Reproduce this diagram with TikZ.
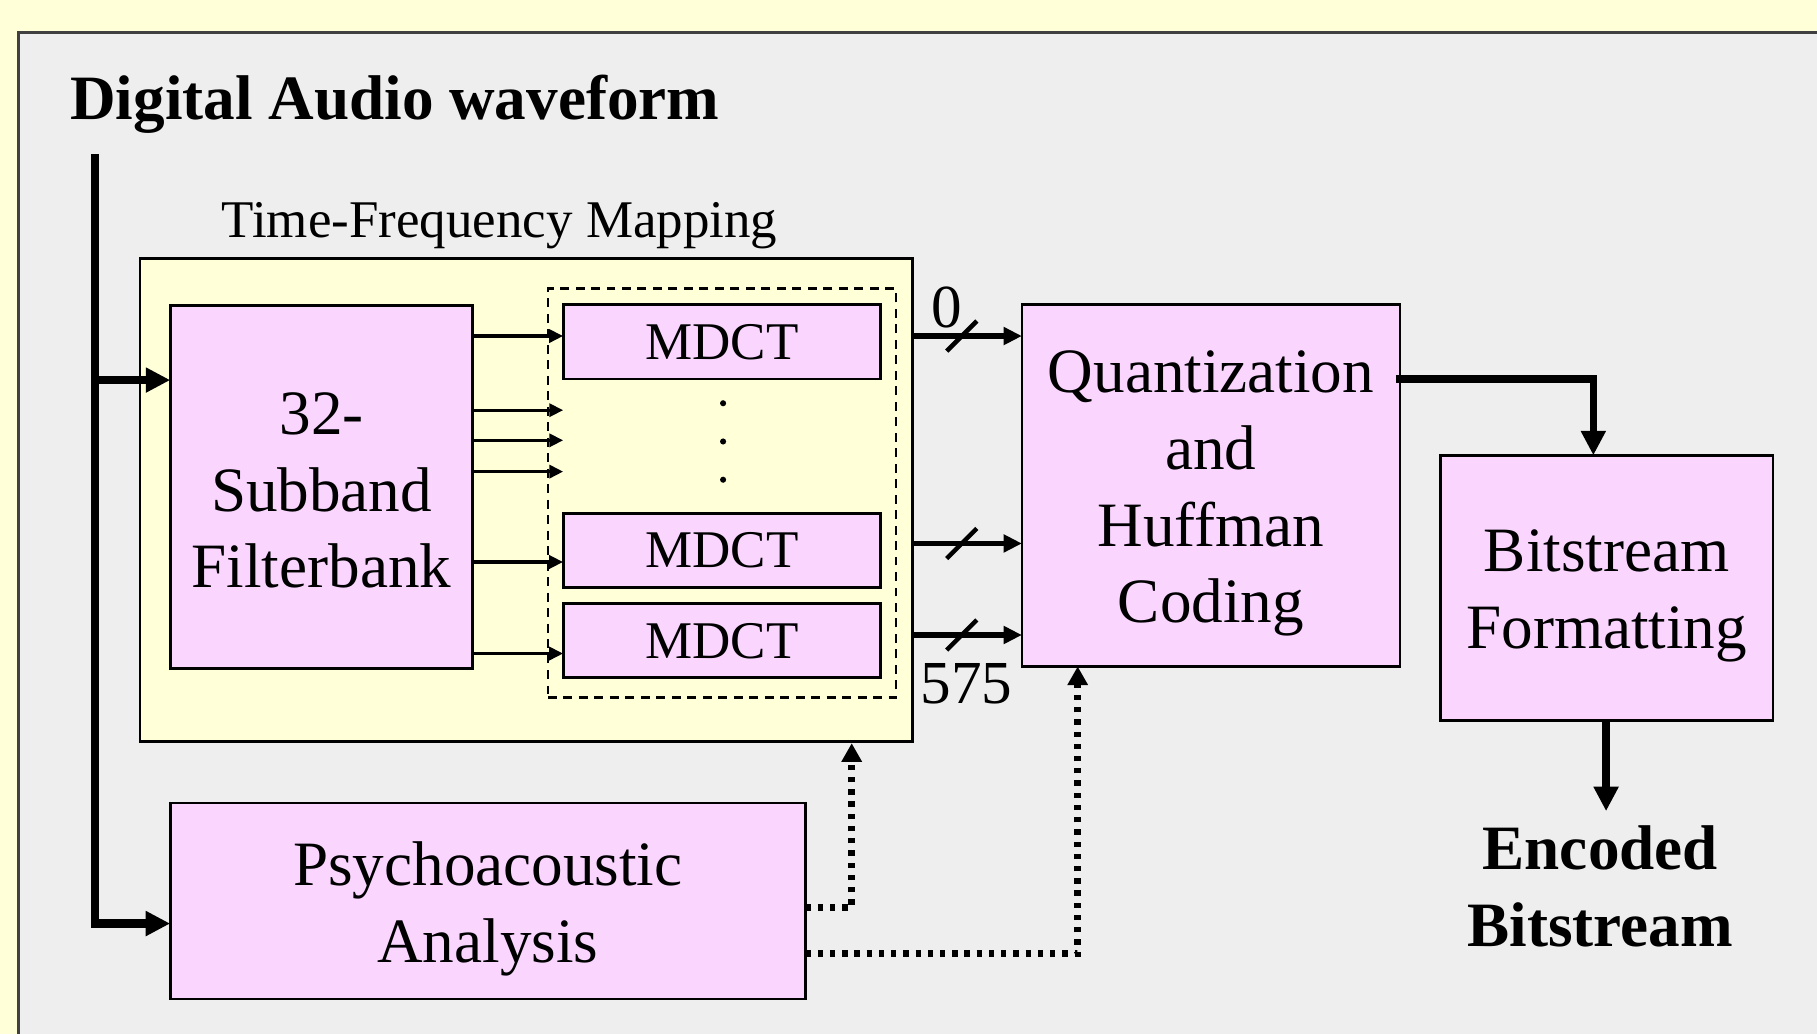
\documentclass[tikz,border=0pt]{standalone}
\usepackage{fontspec}
\setmainfont{Liberation Serif}
\usetikzlibrary{arrows.meta}
\definecolor{bgyel}{RGB}{255,255,216}
\definecolor{panelgray}{RGB}{238,238,238}
\definecolor{pinkbox}{RGB}{250,214,255}
\begin{document}
\begin{tikzpicture}[x=0.01cm,y=-0.01cm,
  blk/.style={draw=black,line width=0.7pt,fill=pinkbox,inner sep=0pt,outer sep=0pt,align=center,font=\fontsize{15.5}{18.8}\selectfont},
  mdct/.style={blk,minimum width=2.74cm,minimum height=0.64cm,font=\fontsize{13}{15}\selectfont},
  btxt/.style={inner sep=0pt,align=center,font=\fontsize{15.5}{18.8}\selectfont},
  thinarr/.style={line width=0.8pt,-{Triangle[length=3.4pt,width=3.2pt]}},
  medarr/.style={line width=1.4pt,-{Triangle[length=4.5pt,width=4.2pt]}},
  bigarr/.style={line width=2pt,-{Triangle[length=6pt,width=5.8pt]}},
  dotarr/.style={line width=1.6pt,dash pattern=on 1.3pt off 1.7pt,-{Triangle[length=4.6pt,width=4.8pt]}},
  slashmark/.style={line width=1.1pt},
  lbl/.style={inner sep=0pt,font=\fontsize{15.5}{18.8}\selectfont}]
\useasboundingbox (0,0) rectangle (1568,892);
\fill[bgyel] (0,0) rectangle (1568,892);
\draw[fill=panelgray,draw=black!75,line width=0.8pt] (16,28) rectangle (1600,920);

\node[lbl,anchor=base west,font=\bfseries\fontsize{15.5}{18.8}\selectfont] (title) at (60,103) {Digital Audio waveform};

% Time-frequency mapping
\node[draw=black,line width=0.7pt,fill=bgyel,inner sep=0pt,minimum width=6.66cm,minimum height=4.17cm] (tfm) at (454,431.5) {};
\node[lbl,anchor=base,font=\fontsize{13}{15}\selectfont] (tfmlabel) at (431,205) {Time-Frequency Mapping};
\node[blk,minimum width=2.61cm,minimum height=3.13cm] (fb) at (277.5,420.5) {};
\node[btxt] (fbtxt) at ([yshift=-0.03cm]fb.center) {32-\\Subband\\Filterbank};
\node[draw=black,line width=0.6pt,dash pattern=on 2.2pt off 1.6pt,inner sep=0pt,minimum width=3.00cm,minimum height=3.53cm] (dbox) at (623,425.5) {};
\node[mdct] (m1) at (623,295) {MDCT};
\node[mdct] (m2) at (623,475) {MDCT};
\node[mdct] (m3) at (623,553) {MDCT};
\fill (624,348) circle[radius=0.75pt];
\fill (624,381) circle[radius=0.75pt];
\fill (624,414) circle[radius=0.75pt];

\coordinate (a1) at (486,354);
\coordinate (a2) at (486,380);
\coordinate (a3) at (486,407);
\draw[thinarr] (fb.east |- 0,290) -- (m1.west |- 0,290);
\draw[thinarr] (fb.east |- a1) -- (a1);
\draw[thinarr] (fb.east |- a2) -- (a2);
\draw[thinarr] (fb.east |- a3) -- (a3);
\draw[thinarr] (fb.east |- 0,485) -- (m2.west |- 0,485);
\draw[thinarr] (fb.east |- 0,564) -- (m3.west |- 0,564);

% Quantization
\node[blk,minimum width=3.26cm,minimum height=3.12cm] (q) at (1045,419) {};
\node[btxt] (qtxt) at ([yshift=-0.07cm]q.center) {Quantization\\and\\Huffman\\Coding};
\coordinate (o1) at (830,290);
\coordinate (o2) at (830,469);
\coordinate (o3) at (830,548);
\draw[medarr] (tfm.east |- o1) -- (q.west |- o1);
\draw[medarr] (tfm.east |- o2) -- (q.west |- o2);
\draw[medarr] (tfm.east |- o3) -- (q.west |- o3);
\draw[slashmark] (o1) ++(-13,13) -- ++(26,-26);
\draw[slashmark] (o2) ++(-13,13) -- ++(26,-26);
\draw[slashmark] (o3) ++(-13,13) -- ++(26,-26);
\node[lbl,font=\fontsize{15}{18}\selectfont] (n0) at (817,265) {0};
\node[lbl,font=\fontsize{15}{18}\selectfont] (n575) at (834,590) {575};

% Bitstream
\node[blk,minimum width=2.87cm,minimum height=2.29cm] (bs) at (1386.5,507.5) {};
\node[btxt] (bstxt) at ([yshift=-0.07cm]bs.center) {Bitstream\\Formatting};
\coordinate (qo) at (1205,327);
\coordinate (bq) at (1375,0);
\draw[line width=1.8pt,-{Triangle[length=6pt,width=5.8pt]}] (qo) -| (bs.north -| bq);
\coordinate (encin) at (1386,700);
\draw[bigarr] (bs.south -| encin) -- (encin);
\node[lbl,align=center,font=\bfseries\fontsize{15.5}{18.8}\selectfont] (enc) at (1381,765) {Encoded\\Bitstream};

% Psychoacoustic
\node[blk,minimum width=5.48cm,minimum height=1.69cm] (ps) at (421,777.5) {};
\node[btxt] (pstxt) at ([yshift=-0.07cm]ps.center) {Psychoacoustic\\Analysis};

% input
\coordinate (in) at (82,133);
\coordinate (fbin) at (82,328);
\coordinate (psin) at (82,797);
\draw[bigarr] (in) |- (ps.west |- psin);
\draw[bigarr] (fbin) -- (fb.west |- fbin);

% dotted control
\coordinate (d1) at (735,783);
\coordinate (d2) at (930,823);
\draw[dotarr] (ps.east |- d1) -| (tfm.south -| d1);
\draw[dotarr] (ps.east |- d2) -| (q.south -| d2);
\end{tikzpicture}
\end{document}
